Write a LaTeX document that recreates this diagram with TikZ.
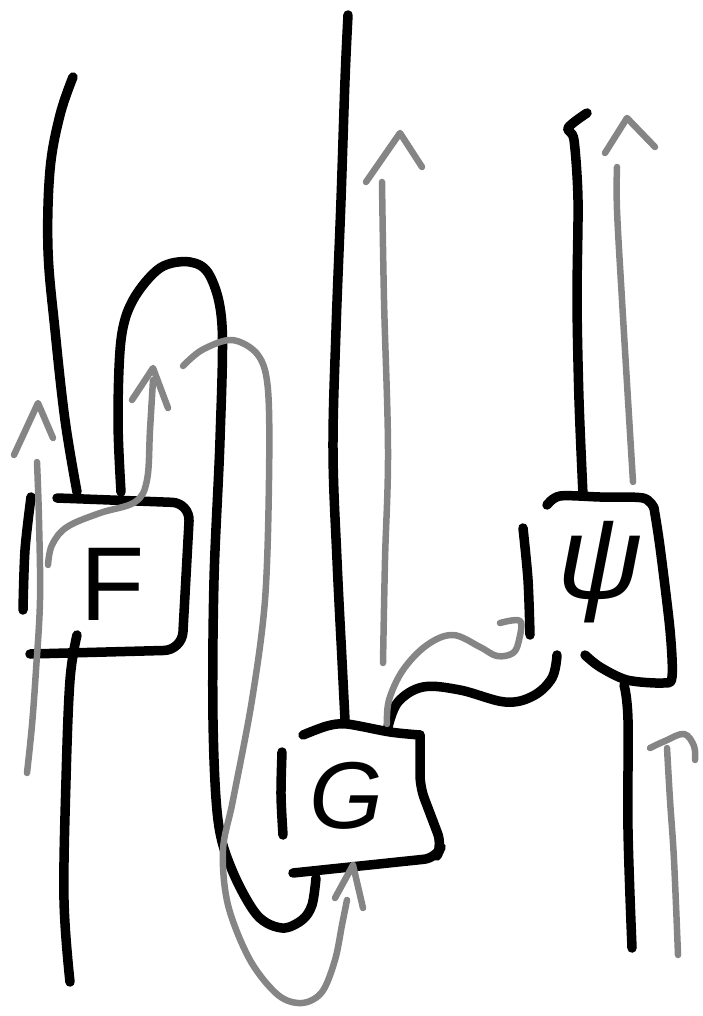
\documentclass[tikz,border=0pt]{standalone}
\usepackage{fontspec}
\setmainfont{Liberation Sans}
\begin{document}
\begin{tikzpicture}[x=1pt,y=-1pt,
  ink/.style={line width=9.5pt,line cap=round,line join=round,black},
  pencil/.style={line width=6.5pt,line cap=round,line join=round,color=greyink},
  lbl/.style={inner sep=0pt,font=\fontsize{105}{105}\selectfont}]
\definecolor{greyink}{HTML}{858585}
\useasboundingbox (0,0) rectangle (702,1016);
% ---------- labels ----------
\node[lbl] (F) at (113,584) {F};
\node[lbl,font=\fontsize{95}{95}\selectfont\itshape] (G) at (346,796) {G};
\node[lbl,font=\fontsize{118}{118}\selectfont\itshape] (P) at (600,572) {ψ};
% ---------- black strings ----------
% left top wire
\draw[ink] plot[smooth,tension=0.6] coordinates {(73,77) (60,115) (50,170) (48,250) (55,330) (65,420) (77,492)};
% F box
\draw[ink,rounded corners=18pt] (57,498) -- (190,503) -- (182,650) -- (30,654);
\draw[ink] plot[smooth] coordinates {(31,497) (25,550) (23,610)};
% F bottom wire
\draw[ink] plot[smooth,tension=0.6] coordinates {(77,635) (70,680) (66,780) (64,900) (70,982)};
% cup-cap loop from F to G
\draw[ink] plot[smooth,tension=0.55] coordinates {(121,492) (118,420) (121,340) (133,300) (160,268) (190,262) (210,276) (222,325) (220,440) (214,580) (213,720) (218,820) (232,870) (257,915) (282,928) (302,920) (312,905) (316,878)};
% G box
\draw[ink] plot[smooth,tension=0.5] coordinates {(303,735) (327,726) (347,724) (390,732) (420,735)};
\draw[ink,rounded corners=12pt] (420,735) -- (420,787) -- (442,845) -- (436,858) -- (293,873);
\draw[ink] plot[smooth] coordinates {(282,752) (281,795) (283,835)};
% long wire above G
\draw[ink] plot[smooth,tension=0.6] coordinates {(345,720) (342,660) (337,560) (333,450) (336,330) (341,200) (345,80) (348,15)};
% G to psi
\draw[ink] plot[smooth,tension=0.6] coordinates {(388,727) (398,702) (423,687) (460,690) (505,702) (533,696) (552,678) (557,655)};
% psi box
\draw[ink] plot[smooth,tension=0.5] coordinates {(547,505) (560,496) (600,497) (643,498) (654,508)};
\draw[ink] plot[smooth,tension=0.5] coordinates {(654,508) (660,547) (670,630) (672,677) (663,683) (627,680) (600,667) (585,655)};
\draw[ink] plot[smooth] coordinates {(523,528) (528,580) (530,635)};
% psi top wire
\draw[ink] plot[smooth,tension=0.5] coordinates {(587,113) (568,128) (574,140) (578,200) (577,300) (579,400) (583,495)};
% psi bottom wire
\draw[ink] plot[smooth,tension=0.6] coordinates {(624,685) (628,720) (628,830) (632,948)};
% ---------- grey strings ----------
% A: long left
\draw[pencil] plot[smooth,tension=0.6] coordinates {(37,462) (39,520) (40,600) (36,670) (32,725) (27,773)};
\draw[pencil] (14,455) -- (38,403) -- (53,438);
% B: from F up
\draw[pencil] plot[smooth,tension=0.6] coordinates {(48,565) (52,545) (67,527) (100,513) (135,502) (147,480) (150,430) (153,380)};
\draw[pencil] (132,400) -- (153,368) -- (168,408);
% C: big loop into G bottom
\draw[pencil] plot[smooth,tension=0.55] coordinates {(183,366) (202,350) (232,340) (258,355) (268,390) (269,480) (265,600) (252,700) (233,800) (223,850) (228,905) (250,960) (278,995) (302,1003) (322,992) (335,960) (342,925) (347,900)};
\draw[pencil] (335,898) -- (353,865) -- (363,908);
% D: straight up right of long wire
\draw[pencil] plot[smooth,tension=0.6] coordinates {(383,663) (385,560) (388,450) (384,300) (382,182)};
\draw[pencil] (366,182) -- (400,133) -- (422,167);
% E: G to psi
\draw[pencil] plot[smooth,tension=0.6] coordinates {(387,724) (389,700) (403,670) (427,645) (453,635) (480,647) (497,656) (513,653) (519,640) (520,621) (500,623)};
% F: psi up
\draw[pencil] plot[smooth,tension=0.6] coordinates {(633,482) (628,400) (622,300) (617,210) (617,167)};
\draw[pencil] (605,153) -- (627,118) -- (655,147);
% G: right bottom
\draw[pencil] plot[smooth,tension=0.6] coordinates {(678,955) (674,860) (670,800) (667,748)};
\draw[pencil] plot[smooth,tension=0.6] coordinates {(650,748) (665,741) (684,734) (694,746) (695,760)};
\end{tikzpicture}
\end{document}
